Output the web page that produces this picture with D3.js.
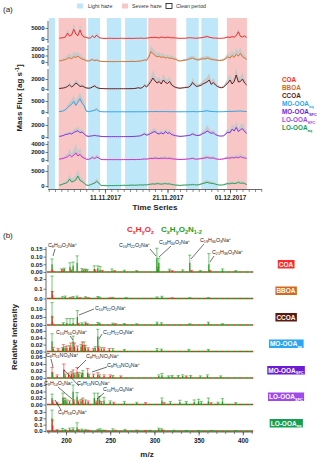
<!DOCTYPE html>
<html>
<head>
<meta charset="utf-8">
<script src="https://cdn.jsdelivr.net/npm/d3@7"></script>
<style>
body{margin:0;background:#fff}
svg{display:block;font-family:"Liberation Sans",Arial,sans-serif}
</style>
</head>
<body>
<svg id="chart" width="320" height="461"></svg>
<script>
// factor names ("|" marks a subscript)
var factors = ["COA", "BBOA", "CCOA", "MO-OOA|aq", "MO-OOA|SFC", "LO-OOA|SFC", "LO-OOA|aq"];
var lineColors = ["#ff1a1a", "#d2691e", "#5b0c0c", "#1e9fe8", "#7b1fe0", "#d21acb", "#149a4b"];
var labelColors = ["#ff2a2a", "#d2691e", "#5b1a10", "#2ba6f0", "#6e1bd6", "#9e4bea", "#14a050"];

// haze periods
var periods = [
  ["2017-11-02T00:00", "2017-11-03T00:00", "light"],
  ["2017-11-03T14:00", "2017-11-08T00:00", "severe"],
  ["2017-11-08T07:00", "2017-11-10T05:00", "light"],
  ["2017-11-11T07:00", "2017-11-13T14:00", "light"],
  ["2017-11-14T05:00", "2017-11-17T17:00", "light"],
  ["2017-11-17T22:00", "2017-11-22T10:00", "severe"],
  ["2017-11-24T00:00", "2017-11-26T00:00", "light"],
  ["2017-11-26T10:00", "2017-11-29T02:00", "light"],
  ["2017-11-30T12:00", "2017-12-03T17:00", "severe"]
];

// mass flux, 8-hour steps from 03.11.2017 16:00
var fluxCOA = [400,450,600,900,2700,1300,1800,4400,2200,1500,4100,1600,900,700,
  350,500,1300,600,1800,700,400,
  300,250,300,350,300,250,300,250,300,350,300,250,300,300,250,300,350,300,400,350,300,400,
  500,700,600,800,600,500,900,700,600,800,650,500,600,450,
  350,300,350,300,
  400,500,600,450,400,350,450,500,700,900,1100,800,600,450,400,350,
  300,350,400,
  600,900,700,1100,800,1500,3300,1200,900,1400,700];
var fluxBBOA = [150,200,300,350,550,650,500,800,700,900,650,450,350,200,
  120,250,350,200,300,150,100,
  80,60,70,80,60,50,70,60,80,90,70,60,80,90,100,80,90,120,150,200,300,250,
  700,1600,1300,1000,800,900,700,800,600,700,550,600,450,400,
  200,150,200,250,
  300,400,500,600,450,350,300,400,500,450,600,500,400,350,300,250,
  200,250,300,
  500,800,600,1000,700,1200,900,1300,800,600,400];
var fluxCCOA = [100,150,200,300,500,800,400,700,1200,900,500,600,400,200,
  150,200,400,600,300,150,100,
  80,60,50,60,50,60,50,60,50,60,50,60,70,60,80,100,150,250,150,300,700,400,
  900,1500,2200,1600,1200,1500,1000,1800,1300,1100,1500,800,500,300,
  200,150,200,250,
  300,350,600,1300,800,500,600,700,1000,1200,1400,1800,900,1300,800,500,
  300,250,400,
  800,1200,1800,1000,1500,2800,1400,1500,2000,1200,800];
var fluxMOaq = [200,300,500,1000,2000,2800,3500,4800,3000,4500,6000,4000,2800,400,
  150,300,500,700,1200,400,150,
  100,80,100,90,80,100,90,80,100,90,100,80,90,100,80,90,100,120,100,90,150,120,
  150,200,150,180,200,150,180,200,150,180,150,130,150,120,
  100,90,100,110,
  120,150,130,200,150,120,130,200,300,400,550,350,250,200,150,120,
  100,120,150,
  200,250,300,250,350,300,400,450,300,250,200];
var fluxMOsfc = [100,150,250,400,450,600,500,750,900,1050,700,850,500,200,
  100,150,200,250,200,150,100,
  80,60,70,60,50,60,70,60,50,60,70,80,60,70,80,100,120,150,200,350,500,300,
  400,600,800,900,600,500,700,500,900,600,700,400,300,200,
  150,100,120,150,
  200,250,300,500,350,250,250,350,600,700,1000,800,600,700,400,250,
  150,150,200,
  500,800,700,1300,1000,1600,900,1200,1400,900,600];
var fluxLOsfc = [200,300,400,600,800,1250,800,1200,1800,1000,1400,700,500,200,
  150,300,600,350,700,500,150,
  100,90,80,90,100,80,90,100,80,90,100,110,90,100,120,100,110,150,120,200,250,200,
  300,400,350,500,400,350,450,400,500,350,450,300,250,200,
  150,120,150,150,
  200,250,300,400,250,200,250,300,400,500,600,500,450,500,300,200,
  150,200,250,
  400,500,450,600,500,700,550,800,600,500,400];
var fluxLOaq = [300,400,700,900,1200,2300,1300,1600,2000,3300,1800,1500,900,300,
  200,400,700,900,1500,1000,200,
  150,120,100,120,150,120,150,200,180,200,250,200,220,250,300,250,280,300,350,300,400,350,
  500,600,700,600,800,700,600,700,800,650,700,500,400,300,
  250,200,250,300,
  300,350,400,450,400,350,400,600,800,1000,1200,1000,900,800,600,400,
  300,300,400,
  600,800,700,1000,800,900,1200,900,1000,800,500];

// upper edge of the uncertainty range
var upperCOA = [700,800,1100,1500,4500,2200,3000,7000,3600,2600,6500,2800,1600,1100,
  500,900,2200,1000,2800,1100,600,
  450,400,450,500,450,400,450,400,450,500,450,400,450,450,400,450,500,450,600,500,450,600,
  800,1100,1000,1300,1000,800,1400,1100,1000,1300,1000,800,900,700,
  500,450,500,450,
  600,750,900,700,600,550,700,750,1100,1400,1700,1200,900,700,600,550,
  450,500,600,
  900,1400,1100,1700,1200,2300,5000,1900,1400,2100,1100];
var upperBBOA = [300,400,600,700,1100,1300,1000,1600,1400,1500,1200,900,700,400,
  250,450,600,400,550,300,200,
  150,120,130,150,120,100,130,120,150,170,130,120,150,170,190,150,170,220,280,350,500,450,
  1200,2500,2100,1700,1400,1500,1200,1400,1000,1200,950,1000,800,700,
  350,280,350,450,
  500,700,850,1000,800,600,550,700,850,800,1000,850,700,600,500,450,
  350,450,550,
  900,1400,1100,1800,1300,2200,1600,2300,1400,1100,700];
var upperCCOA = [200,300,400,600,900,1400,700,1200,2000,1500,900,1000,700,400,
  300,400,700,1000,550,300,200,
  150,120,100,120,100,120,100,120,100,120,100,120,130,120,150,200,280,450,280,550,1200,700,
  1600,2500,3800,2700,2000,2500,1700,3000,2200,1900,2500,1400,900,550,
  350,280,350,450,
  550,600,1000,2200,1400,900,1000,1200,1700,2000,2400,3100,1600,2200,1400,900,
  550,450,700,
  1400,2000,3100,1700,2500,4200,2400,2500,3400,2000,1400];
var upperMOaq = [400,550,900,1700,3300,4600,5800,7600,5000,7200,9000,6500,4600,800,
  300,550,900,1200,2000,700,300,
  200,170,200,180,170,200,180,170,200,180,200,170,180,200,170,180,200,230,200,180,280,230,
  280,350,280,320,350,280,320,350,280,320,280,250,280,230,
  200,180,200,210,
  230,280,250,350,280,230,250,350,500,700,950,600,450,350,280,230,
  200,230,280,
  350,450,550,450,600,550,700,800,550,450,350];
var upperMOsfc = [200,280,450,700,800,1000,850,1300,1500,1700,1200,1400,850,350,
  200,280,350,450,350,280,200,
  150,120,130,120,100,120,130,120,100,120,130,150,120,130,150,180,220,270,350,600,850,500,
  700,1000,1400,1500,1000,850,1200,850,1500,1000,1200,700,500,350,
  270,200,220,270,
  350,450,500,850,600,450,450,600,1000,1200,2000,1400,1000,1200,700,450,
  270,270,350,
  850,1400,1200,2200,1700,2700,1500,2000,2400,1500,1000];
var upperLOsfc = [400,600,800,1200,1700,2800,1700,2700,4200,2200,3100,1500,1000,400,
  300,600,1200,700,1400,1000,300,
  200,180,160,180,200,160,180,200,160,180,200,220,180,200,240,200,220,300,240,400,500,400,
  600,800,700,1000,800,700,900,800,1000,700,900,600,500,400,
  300,240,300,300,
  400,500,600,800,500,400,500,600,800,1000,1200,1000,900,1000,600,400,
  300,400,500,
  800,1000,900,1200,1000,1400,1100,1600,1200,1000,800];
var upperLOaq = [500,700,1200,1600,2200,4000,2300,2800,3500,5500,3200,2600,1600,500,
  350,700,1200,1600,2600,1700,350,
  250,200,170,200,250,200,250,330,300,330,400,330,360,400,500,400,450,500,570,500,650,570,
  800,1000,1200,1000,1300,1200,1000,1200,1300,1100,1200,800,650,500,
  400,330,400,500,
  500,570,650,750,650,570,650,1000,1300,1700,2000,1700,1500,1300,1000,650,
  500,500,650,
  1000,1300,1200,1700,1300,1500,2000,1500,1700,1300,800];

var fluxTicks = [[0,5000],[0,1000,2000],[0,2000],[0,5000],[0,2000],[0,2000,4000],[0,5000]];
var dateTicks = ["2017-11-11", "2017-11-21", "2017-12-01"];

// mass spectra peaks: [m/z, relative intensity, error, "r" CxHyOz | "g" CxHyO2N1-2]
var peaksCOA = [[184.2,0.05,0.035,"g"],[184.6,0.008,0.004,"r"],[195,0.012,0.008,"g"],[196.5,0.01,0.005,"r"],
  [198,0.02,0.005,"g"],[204.5,0.035,0.025,"g"],[206,0.01,0.004,"r"],[208,0.04,0.025,"g"],[212.6,0.06,0.045,"g"],
  [218,0.015,0.008,"g"],[220,0.01,0.005,"r"],[222,0.015,0.004,"g"],[224,0.012,0.004,"g"],[232,0.02,0.02,"g"],
  [233,0.01,0.004,"r"],[236,0.025,0.015,"g"],[238.5,0.015,0.02,"g"],[241,0.008,0.003,"r"],[252,0.01,0.01,"g"],
  [255,0.006,0.003,"r"],[266,0.008,0.004,"g"],[280,0.006,0.003,"g"],[302.8,0.09,0.065,"g"],[304,0.02,0.01,"r"],
  [305,0.06,0.03,"g"],[317,0.012,0.006,"g"],[320,0.006,0.003,"r"],[332,0.01,0.004,"g"],[340,0.06,0.05,"g"],
  [342,0.008,0.003,"r"],[352,0.006,0.003,"g"],[361.6,0.05,0.07,"g"],[363,0.008,0.003,"r"],[377,0.012,0.008,"g"],
  [392,0.006,0.003,"g"]];
var peaksBBOA = [[184.2,0.08,0.15,"g"],[184.6,0.04,0.03,"r"],[196,0.01,0.008,"g"],[199,0.015,0.01,"g"],
  [205,0.008,0.004,"r"],[208,0.012,0.008,"g"],[212.5,0.015,0.01,"g"],[216,0.006,0.003,"r"],[222,0.012,0.006,"g"],
  [225,0.006,0.003,"r"],[236,0.012,0.008,"g"],[238,0.01,0.004,"g"],[250,0.005,0.003,"r"],[253,0.008,0.004,"g"],
  [268,0.006,0.003,"g"],[303,0.01,0.006,"g"],[308.5,0.015,0.008,"g"],[320,0.005,0.003,"r"],[340,0.006,0.003,"g"],
  [361,0.006,0.003,"g"]];
var peaksCCOA = [[184.2,0.06,0.08,"g"],[184.6,0.02,0.03,"r"],[197,0.01,0.004,"g"],[201,0.012,0.028,"g"],
  [204.5,0.01,0.03,"g"],[208,0.012,0.028,"g"],[212.8,0.05,0.04,"g"],[214,0.008,0.003,"r"],[218,0.01,0.004,"g"],
  [222,0.012,0.006,"g"],[224,0.006,0.003,"r"],[236,0.01,0.006,"g"],[238,0.008,0.003,"g"],[253,0.008,0.004,"g"],
  [256,0.005,0.003,"r"],[266,0.006,0.003,"g"],[280,0.005,0.003,"g"],[303,0.012,0.006,"g"],[308,0.01,0.004,"g"],
  [340,0.005,0.003,"g"],[361,0.012,0.006,"g"],[377,0.005,0.003,"g"]];
var peaksMOaq = [[184.2,0.03,0.022,"g"],[185.5,0.008,0.004,"r"],[191,0.006,0.003,"r"],[196,0.008,0.003,"g"],
  [197,0.012,0.008,"r"],[199,0.01,0.004,"g"],[201,0.01,0.006,"r"],[204,0.012,0.005,"g"],[205.5,0.015,0.01,"r"],
  [208,0.03,0.015,"g"],[209.5,0.015,0.01,"r"],[213,0.01,0.006,"r"],[217,0.015,0.006,"g"],[218.5,0.02,0.008,"r"],
  [220.5,0.02,0.008,"g"],[222,0.012,0.006,"r"],[225,0.008,0.003,"r"],[231,0.006,0.003,"r"],[233,0.01,0.004,"g"],
  [236,0.045,0.02,"g"],[237,0.01,0.004,"r"],[240,0.008,0.003,"g"],[243,0.008,0.003,"r"],[249,0.006,0.003,"r"],
  [253,0.006,0.003,"g"],[266,0.004,0.002,"g"],[303,0.006,0.003,"g"],[308,0.005,0.002,"g"],[339,0.004,0.002,"g"],
  [361,0.004,0.002,"g"]];
var peaksMOsfc = [[184.2,0.018,0.012,"r"],[185,0.01,0.004,"g"],[190,0.006,0.003,"r"],[197.5,0.025,0.015,"r"],
  [199,0.008,0.003,"g"],[203,0.01,0.004,"r"],[206,0.012,0.006,"g"],[208,0.015,0.008,"r"],[210,0.01,0.004,"g"],
  [212.5,0.018,0.012,"r"],[214.5,0.012,0.004,"g"],[217.5,0.01,0.004,"r"],[219,0.015,0.006,"g"],[224.5,0.015,0.012,"r"],
  [226,0.008,0.003,"g"],[231,0.008,0.003,"r"],[236,0.01,0.005,"r"],[238,0.006,0.003,"g"],[243,0.006,0.003,"r"],
  [250,0.006,0.003,"r"],[253,0.005,0.002,"g"],[262,0.004,0.002,"r"],[305,0.006,0.003,"g"],[308.5,0.008,0.005,"g"],
  [316,0.004,0.002,"g"],[320,0.005,0.002,"g"],[327,0.005,0.002,"g"],[332,0.006,0.003,"g"],[336,0.004,0.002,"r"],
  [341,0.005,0.002,"g"],[352,0.004,0.002,"g"],[360,0.006,0.003,"g"],[375,0.004,0.002,"g"]];
var peaksLOsfc = [[184.2,0.02,0.012,"g"],[185,0.008,0.003,"r"],[190,0.005,0.002,"r"],[196.5,0.02,0.015,"g"],
  [197.5,0.012,0.008,"r"],[199,0.015,0.004,"g"],[201,0.01,0.004,"g"],[204,0.008,0.003,"r"],[208,0.04,0.02,"g"],
  [209,0.01,0.004,"r"],[212.5,0.025,0.012,"g"],[214,0.008,0.003,"r"],[217,0.012,0.004,"g"],[219,0.015,0.005,"r"],
  [222,0.01,0.004,"g"],[225,0.008,0.003,"r"],[232,0.02,0.015,"g"],[234,0.008,0.003,"r"],[236,0.02,0.015,"g"],
  [238,0.015,0.01,"g"],[240,0.006,0.003,"r"],[243,0.012,0.01,"g"],[250,0.008,0.003,"g"],[254,0.005,0.002,"r"],
  [266,0.006,0.003,"g"],[280,0.005,0.002,"g"],[290,0.004,0.002,"r"],[308.5,0.012,0.008,"g"],[311,0.004,0.002,"r"],
  [318,0.006,0.003,"g"],[328.8,0.008,0.005,"g"],[336,0.006,0.003,"g"],[345,0.008,0.006,"g"],[350,0.01,0.006,"g"],
  [353,0.006,0.003,"g"],[361,0.01,0.01,"g"],[364,0.004,0.002,"r"],[372,0.005,0.002,"g"],[377,0.01,0.008,"g"],
  [392,0.004,0.002,"g"]];
var peaksLOaq = [[184.2,0.2,0.13,"g"],[184.8,0.09,0.08,"r"],[190,0.015,0.006,"r"],[196,0.02,0.02,"g"],
  [199,0.015,0.006,"g"],[204,0.025,0.02,"g"],[205.5,0.01,0.005,"r"],[208,0.03,0.02,"g"],[212.5,0.06,0.07,"g"],
  [214,0.015,0.006,"r"],[218,0.02,0.01,"g"],[222,0.015,0.006,"g"],[225,0.01,0.004,"r"],[236,0.015,0.01,"g"],
  [238.5,0.02,0.015,"g"],[241,0.01,0.004,"g"],[244,0.008,0.004,"r"],[253,0.02,0.015,"g"],[256,0.008,0.004,"r"],
  [266.7,0.015,0.01,"g"],[280,0.01,0.005,"g"],[290,0.006,0.003,"r"],[295,0.008,0.004,"g"],[305,0.03,0.015,"g"],
  [308,0.025,0.01,"g"],[310,0.01,0.004,"r"],[322,0.008,0.004,"g"],[336,0.006,0.003,"g"],[350,0.006,0.003,"g"],
  [365,0.006,0.003,"g"],[392,0.005,0.003,"g"]];

var intensityTicks = [[0,0.05,0.1,0.15],[0,0.1,0.2],[0,0.05,0.1],[0,0.02,0.04,0.06],[0,0.02,0.04,0.06],[0,0.02,0.04,0.06],[0,0.1,0.2,0.3]];
var intensityFormats = [".2f", ".1f", ".2f", ".2f", ".2f", ".2f", ".1f"];
var mzTicks = [200, 250, 300, 350, 400];

// ion labels: [formula, label x, label y, arrow from x, y, arrow to x, y]
var ionLabels = [
  ["C8H10O2Na+", 48, 247, 55, 249, 53, 256],
  ["C16H22O2Na+", 119, 247, 150, 249, 156, 256],
  ["C18H34O2Na+", 159, 244, 171, 246, 159, 257],
  ["C19H36O3Na+", 200, 242, 204, 244, 191, 259],
  ["C21H38O3Na+", 212, 254, 214, 256, 210, 262],
  ["C10H22O2Na+", 95, 310, 94, 309, 79, 315],
  ["C10H16O3Na+", 56, 334, 70, 336, 73, 340],
  ["C12H22O3Na+", 103, 334, 102, 334, 99, 339],
  ["C8H11NO4Na+", 46, 357, 51, 359, 53, 367],
  ["C9H15NO4Na+", 86, 358, 86, 360, 77, 369],
  ["C9H13NO4Na+", 107, 367, 107, 367, 92, 372],
  ["C9H14O5Na+", 44, 385, 58, 387, 72, 399],
  ["C8H13NO4Na+", 77, 385, 79, 386, 64, 370],
  ["C10H20O6Na+", 103, 391, 104, 393, 97, 399],
  ["C9H18O4Na+", 58, 414, 61, 410, 55, 400]
];

var flux = [fluxCOA, fluxBBOA, fluxCCOA, fluxMOaq, fluxMOsfc, fluxLOsfc, fluxLOaq];
var upper = [upperCOA, upperBBOA, upperCCOA, upperMOaq, upperMOsfc, upperLOsfc, upperLOaq];
var peaks = [peaksCOA, peaksBBOA, peaksCCOA, peaksMOaq, peaksMOsfc, peaksLOsfc, peaksLOaq];

// ---- layout ----
var svg = d3.select("#chart");
var t0 = new Date(2017, 10, 3, 16);
var parse = d3.timeParse("%Y-%m-%dT%H:%M");
var parseDay = d3.timeParse("%Y-%m-%d");

// panel (a) rows: zero line, top tick position, band edges
var aRows = [
  {zero: 39, top: 28, band: [21, 43]},
  {zero: 62, top: 49, band: [45, 66]},
  {zero: 89, top: 79, band: [69, 91]},
  {zero: 112, top: 101, band: [93, 114]},
  {zero: 137, top: 125, band: [117, 139]},
  {zero: 160, top: 144, band: [141, 162]},
  {zero: 186, top: 171, band: [165, 188]}
];
var bRows = [272, 298.5, 325, 351.5, 378, 404.5, 431];
var bTops = [249, 279, 309, 331, 357, 385, 412];

var xa = d3.scaleTime()
  .domain([new Date(2017, 10, 2), new Date(2017, 11, 6)])
  .range([48.75, 261.25]);
var xb = d3.scaleLinear().domain([178.5, 411.5]).range([47, 253]);

function addLabel(sel, name, size) {
  var p = name.split("|");
  sel.append("tspan").text(p[0]);
  if (p[1]) sel.append("tspan").attr("font-size", size * 0.62).attr("dy", size * 0.25).text(p[1]);
}

function addFormula(sel, f, size) {
  var re = /([A-Z][a-z]?)(\d*)/g, m, shift = 0;
  while ((m = re.exec(f)) !== null) {
    sel.append("tspan").attr("dy", -shift).text(m[1]);
    shift = 0;
    if (m[2]) { sel.append("tspan").attr("font-size", size * 0.7).attr("dy", size * 0.22).text(m[2]); shift = size * 0.22; }
  }
  if (f.slice(-1) === "+") sel.append("tspan").attr("font-size", size * 0.7).attr("dy", -shift - size * 0.38).text("+");
}

// ---- panel (a) ----
svg.append("text").attr("x", 3).attr("y", 12).attr("font-size", 8).attr("fill", "#222").text("(a)");

var shade = {light: "#bfe7fa", severe: "#f9c6c6"};
svg.append("g").selectAll("rect").data(periods).join("rect")
  .attr("x", function (d) { return xa(parse(d[0])); })
  .attr("width", function (d) { return xa(parse(d[1])) - xa(parse(d[0])); })
  .attr("y", 18).attr("height", 171)
  .attr("fill", function (d) { return shade[d[2]]; });

// top legend
var legTop = [["Light haze", shade.light, 77, 88], ["Severe haze", shade.severe, 122, 132], ["Clean period", "#fff", 166, 176]];
legTop.forEach(function (d) {
  svg.append("rect").attr("x", d[2]).attr("y", 3.5).attr("width", 6).attr("height", 5)
    .attr("fill", d[1]).attr("stroke", d[0] === "Clean period" ? "#111" : "none").attr("stroke-width", 0.8);
  svg.append("text").attr("x", d[3]).attr("y", 8.3).attr("font-size", 5.3).attr("fill", "#333").text(d[0]);
});

flux.forEach(function (vals, k) {
  var r = aRows[k];
  var top = fluxTicks[k][fluxTicks[k].length - 1];
  var y = d3.scaleLinear().domain([0, top]).range([r.zero, r.top]);
  var tx = function (d, i) { return xa(d3.timeHour.offset(t0, 8 * i)); };
  var band = d3.area().x(tx)
    .y0(function (d) { return y(d); })
    .y1(function (d, i) { return y(upper[k][i]); });
  svg.append("path").datum(vals).attr("d", band).attr("fill", "#c9c9c9");
  svg.append("path").datum(vals)
    .attr("d", d3.line().x(tx).y(function (d) { return y(d); }))
    .attr("fill", "none").attr("stroke", lineColors[k]).attr("stroke-width", 0.9);

  var ax = svg.append("g").attr("transform", "translate(48,0)")
    .call(d3.axisLeft(y).tickValues(fluxTicks[k]).tickSize(2.5).tickSizeOuter(0).tickFormat(d3.format("d")));
  ax.select(".domain").attr("d", "M0," + r.band[0] + "V" + r.band[1]).attr("stroke", "#444").attr("stroke-width", 0.8);
  ax.selectAll(".tick line").attr("stroke", "#444").attr("stroke-width", 0.7);
  ax.selectAll("text").attr("font-size", 6).attr("font-weight", "bold").attr("fill", "#222").attr("x", -3.5)
    .attr("font-family", "Liberation Sans, Arial, sans-serif");

  var lt = svg.append("text").attr("x", 282).attr("y", 82 + 8 * k).attr("font-size", 6.4)
    .attr("font-weight", "bold").attr("fill", labelColors[k]);
  addLabel(lt, factors[k], 6.4);
});

var xAxisA = svg.append("g").attr("transform", "translate(0,189.5)");
xAxisA.call(d3.axisBottom(xa).ticks(d3.timeDay.every(1)).tickSize(2.5).tickFormat(""));
xAxisA.select(".domain").attr("d", "M48,0H262").attr("stroke", "#444").attr("stroke-width", 0.8);
xAxisA.selectAll(".tick line").attr("stroke", "#444").attr("stroke-width", 0.6);
var xMajA = svg.append("g").attr("transform", "translate(0,189.5)")
  .call(d3.axisBottom(xa).tickValues(dateTicks.map(parseDay)).tickSize(4).tickFormat(d3.timeFormat("%d.%m.%Y")));
xMajA.select(".domain").remove();
xMajA.selectAll(".tick line").attr("stroke", "#444").attr("stroke-width", 0.7);
xMajA.selectAll("text").attr("font-size", 6.3).attr("font-weight", "bold").attr("fill", "#222").attr("y", 6)
  .attr("font-family", "Liberation Sans, Arial, sans-serif");

svg.append("text").attr("x", 155).attr("y", 210).attr("text-anchor", "middle").attr("font-size", 8)
  .attr("font-weight", "bold").attr("fill", "#222").text("Time Series");
var yt = svg.append("text").attr("transform", "translate(22,98) rotate(-90)").attr("text-anchor", "middle")
  .attr("font-size", 8).attr("font-weight", "bold").attr("fill", "#222");
yt.append("tspan").text("Mass Flux [ag s");
yt.append("tspan").attr("font-size", 5.5).attr("dy", -3).text("-1");
yt.append("tspan").attr("dy", 3).text("]");

// ---- panel (b) ----
svg.append("text").attr("x", 3).attr("y", 238).attr("font-size", 8).attr("fill", "#222").text("(b)");
var t1 = svg.append("text").attr("x", 127).attr("y", 232).attr("font-size", 8).attr("font-weight", "bold").attr("fill", "#ff1a1a");
[["C", 0], ["x", 1], ["H", 0], ["y", 1], ["O", 0], ["z", 1]].forEach(function (p, i, a) {
  var prev = i > 0 ? a[i - 1][1] : 0;
  t1.append("tspan").attr("font-size", p[1] ? 5.5 : 8).attr("dy", p[1] ? 2 : (prev ? -2 : 0)).text(p[0]);
});
var t2 = svg.append("text").attr("x", 161).attr("y", 232).attr("font-size", 8).attr("font-weight", "bold").attr("fill", "#1a9e1a");
[["C", 0], ["x", 1], ["H", 0], ["y", 1], ["O", 0], ["2", 1], ["N", 0], ["1-2", 1]].forEach(function (p, i, a) {
  var prev = i > 0 ? a[i - 1][1] : 0;
  t2.append("tspan").attr("font-size", p[1] ? 5.5 : 8).attr("dy", p[1] ? 2 : (prev ? -2 : 0)).text(p[0]);
});

var peakColor = {r: "#ff2020", g: "#1ea01e"};
peaks.forEach(function (list, k) {
  var base = bRows[k];
  var ticks = intensityTicks[k];
  var y = d3.scaleLinear().domain([0, ticks[ticks.length - 1]]).range([base, bTops[k]]);
  var g = svg.append("g");
  g.append("line").attr("x1", 47).attr("x2", 253).attr("y1", base).attr("y2", base)
    .attr("stroke", peakColor.r).attr("stroke-width", 1.3).attr("stroke-dasharray", "3,3");
  g.append("line").attr("x1", 50).attr("x2", 253).attr("y1", base).attr("y2", base)
    .attr("stroke", peakColor.g).attr("stroke-width", 1.3).attr("stroke-dasharray", "3,3");
  var pk = g.selectAll("g.pk").data(list).join("g")
    .attr("stroke", function (d) { return peakColor[d[3]]; });
  pk.append("line").attr("x1", function (d) { return xb(d[0]); }).attr("x2", function (d) { return xb(d[0]); })
    .attr("y1", base).attr("y2", function (d) { return y(d[1]); }).attr("stroke-width", 1.4);
  pk.append("line").attr("x1", function (d) { return xb(d[0]); }).attr("x2", function (d) { return xb(d[0]); })
    .attr("y1", function (d) { return y(d[1]); }).attr("y2", function (d) { return y(d[1] + d[2]); }).attr("stroke-width", 0.6);
  pk.append("line").attr("x1", function (d) { return xb(d[0]) - 1.6; }).attr("x2", function (d) { return xb(d[0]) + 1.6; })
    .attr("y1", function (d) { return y(d[1] + d[2]); }).attr("y2", function (d) { return y(d[1] + d[2]); }).attr("stroke-width", 0.6);

  var ax = svg.append("g").attr("transform", "translate(46,0)")
    .call(d3.axisLeft(y).tickValues(ticks).tickSize(2.5).tickSizeOuter(0).tickFormat(d3.format(intensityFormats[k])));
  ax.select(".domain").attr("d", "M0," + (base - 25) + "V" + (base + 1.5)).attr("stroke", "#444").attr("stroke-width", 0.8);
  ax.selectAll(".tick line").attr("stroke", "#444").attr("stroke-width", 0.7);
  ax.selectAll("text").attr("font-size", 6).attr("font-weight", "bold").attr("fill", "#222").attr("x", -3.5)
    .attr("font-family", "Liberation Sans, Arial, sans-serif");

  // factor box on the right
  var lb = svg.append("text").attr("x", 286).attr("y", base - 5.5).attr("text-anchor", "middle")
    .attr("font-size", 6.5).attr("font-weight", "bold").attr("fill", "#fff");
  addLabel(lb, factors[k], 6.5);
  var bb = lb.node().getBBox();
  svg.insert("rect", function () { return lb.node(); })
    .attr("x", bb.x - 1).attr("y", base - 12).attr("width", bb.width + 2).attr("height", 8.5)
    .attr("fill", labelColors[k]);
});

ionLabels.forEach(function (d) {
  svg.append("line").attr("x1", d[3]).attr("y1", d[4]).attr("x2", d[5]).attr("y2", d[6])
    .attr("stroke", "#111").attr("stroke-width", 0.6);
  var t = svg.append("text").attr("x", d[1]).attr("y", d[2]).attr("font-size", 5.3).attr("fill", "#222");
  addFormula(t, d[0], 5.3);
});

var xAxisB = svg.append("g").attr("transform", "translate(0,432)")
  .call(d3.axisBottom(xb).tickValues(d3.range(180, 411, 10)).tickSize(2).tickFormat(""));
xAxisB.select(".domain").attr("d", "M47,0H253").attr("stroke", "#444").attr("stroke-width", 0.8);
xAxisB.selectAll(".tick line").attr("stroke", "#444").attr("stroke-width", 0.6);
var xMajB = svg.append("g").attr("transform", "translate(0,432)")
  .call(d3.axisBottom(xb).tickValues(mzTicks).tickSize(3.5));
xMajB.select(".domain").remove();
xMajB.selectAll(".tick line").attr("stroke", "#444").attr("stroke-width", 0.7);
xMajB.selectAll("text").attr("font-size", 6.3).attr("font-weight", "bold").attr("fill", "#222").attr("y", 7)
  .attr("font-family", "Liberation Sans, Arial, sans-serif");

svg.append("text").attr("x", 147).attr("y", 457).attr("text-anchor", "middle").attr("font-size", 8)
  .attr("font-weight", "bold").attr("fill", "#222").text("m/z");
svg.append("text").attr("transform", "translate(17,337) rotate(-90)").attr("text-anchor", "middle")
  .attr("font-size", 8).attr("font-weight", "bold").attr("fill", "#222").text("Relative Intensity");
</script>
</body>
</html>
